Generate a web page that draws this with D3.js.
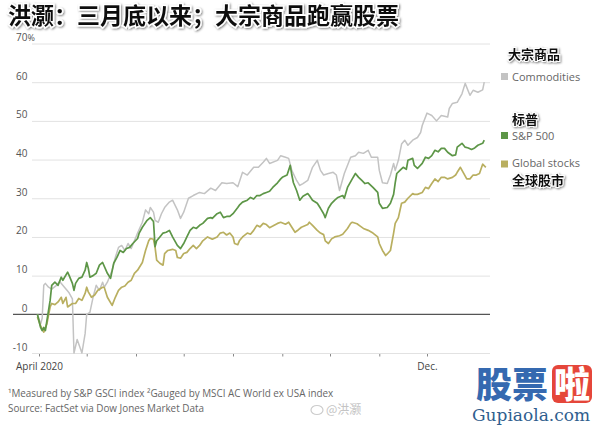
<!DOCTYPE html>
<html><head><meta charset="utf-8">
<script src="https://cdn.jsdelivr.net/npm/d3@7"></script>
<style>
html,body{margin:0;padding:0;background:#fff;}
svg{display:block;}
</style></head><body>
<svg id="c" width="600" height="426"></svg>
<script>
// ---- data (days since 2020-04-01, % change since end of March) ----
const titleText = "洪灏：三月底以来；大宗商品跑赢股票";
const yTicks = [-10, 0, 10, 20, 30, 40, 50, 60, 70];
const monthTicks = ["2020-04-01","2020-05-01","2020-06-01","2020-07-01","2020-08-01","2020-09-01","2020-10-01","2020-11-01","2020-12-01"];
const monthLabels = ["April 2020","","","","","","","","Dec."];
const seriesNames = ["Commodities", "S&P 500", "Global stocks"];
const seriesNamesCn = ["大宗商品", "标普", "全球股市"];
const footnotes = ["¹Measured by S&P GSCI index ²Gauged by MSCI AC World ex USA index",
                   "Source: FactSet via Dow Jones Market Data"];

const comDays = [-1,1,2,3,4,6,8,11,13,16,18,19,21,22,24,27,29,30,32,34,36,38,40,41,43,46,48,50,52,54,56,58,60,62,65,67,69,70,72,73,75,77,79,82,84,87,89,91,94,97,101,104,108,111,115,118,122,125,128,131,135,138,141,143,145,150,152,155,157,159,162,164,166,169,172,175,177,179,182,185,187,189,192,196,199,201,204,207,209,213,214,216,219,221,223,224,226,228,230,232,235,238,240,241,244,247,250,253,257,258,260,263,266,268,271,273,276,279,280];
const comVals = [0,-2.5,-1,7.5,8,7,6.5,7.5,8.5,7,6,5.5,4,-10,-6.5,-10,-5,0,0.5,4.4,7.5,6.2,8.3,7,8.3,11.4,14.7,17.3,17.8,16.5,18.3,17,19,21,23.8,27,26,27.6,26.4,24.3,23.8,26,27.6,29,29.5,27,24.8,26.4,30,30.7,31.5,31.2,32.6,32,34,33.8,34,33,36.7,36,38,38,39.3,40.3,39,39.8,41,40.6,40.3,37.2,34.6,33.3,33.8,34.6,38,39.8,37.2,36,36.4,36.7,36,32,36.4,40.6,41,41.9,41.6,42.4,40.6,40.6,37.2,34,33.8,36,39,37.2,39.8,44,45,43.7,45,45.7,47,48.8,52,51.4,50,51.4,51,53.2,54.5,54.8,57,59.7,56.6,57.9,57.4,58,60];

const spDays = [-1,1,2,3,4,5,6,7,8,10,12,14,15,18,19,21,22,23,25,27,29,30,31,32,34,36,38,40,43,45,47,49,51,53,55,57,59,62,63,65,68,70,72,73,74,76,78,80,82,84,87,89,91,93,95,97,99,101,103,106,108,109,112,114,116,118,120,122,125,126,128,131,133,135,137,139,141,143,145,147,150,152,153,156,158,159,160,162,164,166,169,170,172,175,177,179,180,182,184,186,188,191,192,194,197,199,201,203,205,207,210,213,214,216,219,221,223,224,225,227,229,231,232,235,236,238,241,243,245,247,249,251,253,255,257,260,262,263,266,268,270,272,274,276,279,280];
const spVals = [0,-3.4,-4.2,-3.4,-4.2,-1.6,1,3.6,7.5,8.3,7.5,9.6,8.8,10.9,10,8,6.2,8,9.3,9.6,11.4,13.4,11.9,9.6,10,10.6,12.7,13.4,10.6,9.3,13.2,14.7,16.5,16,17,17.3,18.3,19.6,21,22.5,24.3,25,24,17.5,19,20,21,21.2,21.7,20,17.8,17,18.3,20,21.7,22.5,22.2,23,23.5,24.8,25,24.8,26,26.4,25,25.3,25.3,26,27.6,28.2,29,29.5,30.2,29.8,30.7,30.7,31.2,31.5,31.8,32.8,34,35,35.4,36,38.5,36,34,32,29.5,30.5,31.2,30.7,29.5,28.7,27.4,26,25,27.4,28.7,29.5,30.2,30.7,30,32.8,35,36.4,35.4,34.6,33.8,34,32.8,31.5,28.7,27.4,27.6,28.7,31,34,36.4,37.2,38,37.5,39.8,40.3,38.5,37.7,39,40.6,40.3,41,42.4,42,42.9,42.9,41.9,41,41.2,43.2,44.2,43.2,43,42.6,43,43.7,44.2,45];

const glDays = [-1,1,3,4,5,6,7,8,10,12,14,15,17,18,21,23,25,27,29,30,31,33,35,37,40,41,43,46,48,50,52,54,56,58,60,62,65,67,69,70,72,73,74,76,78,79,81,84,86,87,89,91,93,95,97,99,101,103,106,108,109,112,114,116,118,120,122,123,125,126,128,131,133,135,137,139,141,143,145,147,150,152,155,157,159,161,163,165,169,170,172,175,177,179,180,182,184,186,189,191,194,196,197,200,202,204,207,210,213,214,216,218,219,221,223,224,226,228,230,232,235,236,238,241,243,245,247,249,251,253,255,257,260,262,263,265,267,269,271,273,275,277,279,281];
const glVals = [-0.7,-3,-4.6,-3.5,-2.4,-0.2,1.9,2.8,2.5,3.2,4.4,2.8,4.4,1.9,2.8,2.8,4.1,3.6,5.4,7,5.8,4.4,5,6.2,7,7,4.4,2.3,4.4,6.2,7,7.3,8.3,8.8,10.6,11.4,13.4,16.5,19,19.6,19.4,17.3,14,13.2,12.7,15.7,16.5,16.8,16.5,14.7,14.5,15.7,16,17,17.8,17,17.8,19,20,19.6,19.4,20,21,21.2,20.5,21,20,18.3,18,19,20,21,20.7,21.7,23,22.6,23.5,23.2,22.4,22.8,23.5,23.8,23.3,23.8,22.5,21.2,21.8,22.5,23.2,23.8,23,21.7,21,20.6,19,18.3,19.5,20,20.3,20.7,22.2,23.5,23.8,23.4,22.8,22.2,21.7,21,20,18.3,16.5,15.2,15.6,16.5,21,23.5,25,28.7,29,30,31.2,31,31,31.5,32.8,32.5,33.8,35,34.3,35.4,35.4,35,35.4,36,36.7,38,36.5,35,35,36,36,36.4,38.8,38];

// ---- chart ----
const svg = d3.select("#c");
const defs = svg.append("defs");
defs.append("filter").attr("id","sh").attr("x","-10%").attr("y","-20%").attr("width","130%").attr("height","150%")
  .append("feDropShadow").attr("dx",1).attr("dy",1).attr("stdDeviation",0.9)
  .attr("flood-color","#000").attr("flood-opacity",0.5);

const base = new Date(2020, 3, 1);
const toDate = d => d3.timeDay.offset(base, d);
const parse = d3.timeParse("%Y-%m-%d");
const x = d3.scaleTime().domain([base, new Date(2020, 11, 1)]).range([39, 427]);
const y = d3.scaleLinear().domain([-10, 70]).range([353, 43.5]);

const SANS = "'Open Sans', 'Noto Sans', sans-serif";
const CJK = "'Noto Sans CJK SC', sans-serif";

// gridlines
const grid = svg.append("g").attr("transform", "translate(32,0)")
  .call(d3.axisRight(y).tickValues(yTicks).tickSize(458).tickFormat(""));
grid.select(".domain").remove();
grid.selectAll(".tick line").attr("stroke", d => d === 0 ? "none" : "#e2e2e2").attr("stroke-width", 1);

// y labels
const yl = svg.append("g");
yTicks.forEach(t => {
  yl.append("text").attr("x", 27.5).attr("y", y(t) - 2.5)
    .attr("text-anchor", "end").attr("font-family", SANS).attr("font-size", 10)
    .attr("fill", "#555").text(t);
  if (t === 70) {
    yl.append("text").attr("x", 27.5).attr("y", y(t) - 2.5)
      .attr("font-family", SANS).attr("font-size", 9).attr("fill", "#555").text("%");
  }
});

// x axis ticks
const xa = svg.append("g").attr("transform", `translate(0,${y(-10) + 1})`)
  .call(d3.axisBottom(x).tickValues(monthTicks.map(parse)).tickSize(2.5).tickPadding(6)
    .tickFormat((d, i) => monthLabels[i]));
xa.select(".domain").remove();
xa.selectAll(".tick line").attr("stroke", "#888");
xa.selectAll(".tick text").attr("font-family", SANS).attr("font-size", 10).attr("fill", "#444");

// zero line
svg.append("line").attr("x1", 13).attr("x2", 490).attr("y1", y(0)).attr("y2", y(0))
  .attr("stroke", "#555").attr("stroke-width", 1.3);

// series lines
const colors = {"Commodities": "#c3c3c3", "S&P 500": "#5d9647", "Global stocks": "#b9af60"};
const series = [
  {name: "Commodities", days: comDays, vals: comVals, w: 1.5},
  {name: "Global stocks", days: glDays, vals: glVals, w: 1.7},
  {name: "S&P 500", days: spDays, vals: spVals, w: 1.7}
];
const line = d3.line().x(d => x(d[0])).y(d => y(d[1]));
series.forEach(s => {
  const pts = s.days.map((d, i) => [toDate(d), s.vals[i]]);
  svg.append("path").datum(pts).attr("d", line).attr("fill", "none")
    .attr("stroke", colors[s.name]).attr("stroke-width", s.w).attr("stroke-linejoin", "round");
});

// legend
const leg = [
  {cn: seriesNamesCn[0], cnY: 59, cnX: 508, en: seriesNames[0], enY: 81, sqY: 73},
  {cn: seriesNamesCn[1], cnY: 124, cnX: 512, en: seriesNames[1], enY: 140, sqY: 132},
  {cn: seriesNamesCn[2], cnY: 185, cnX: 512, en: seriesNames[2], enY: 167, sqY: 160.5}
];
leg.forEach(l => {
  svg.append("rect").attr("x", 501).attr("y", l.sqY).attr("width", 7).attr("height", 7).attr("fill", colors[l.en]);
  svg.append("text").attr("x", 512).attr("y", l.enY).attr("font-family", SANS).attr("font-size", 11)
    .attr("fill", "#666").text(l.en);
  svg.append("text").attr("x", l.cnX).attr("y", l.cnY).attr("font-family", CJK).attr("font-weight", 700)
    .attr("font-size", 13).attr("fill", "#111").attr("stroke", "#fff").attr("stroke-width", 2)
    .attr("paint-order", "stroke").attr("filter", "url(#sh)").text(l.cn);
});

// title
svg.append("text").attr("x", 8).attr("y", 24).attr("font-family", CJK).attr("font-weight", 700)
  .attr("font-size", 23).attr("fill", "#111").attr("stroke", "#fff").attr("stroke-width", 3)
  .attr("paint-order", "stroke").attr("filter", "url(#sh)").text(titleText);

// footnotes
footnotes.forEach((f, i) => {
  svg.append("text").attr("x", 8).attr("y", 397 + i * 15).attr("font-family", SANS).attr("font-size", 9.9)
    .attr("fill", "#666").text(f);
});

// watermark
svg.append("ellipse").attr("cx", 317).attr("cy", 410).attr("rx", 6).attr("ry", 4.5)
  .attr("fill", "none").attr("stroke", "#ccc").attr("stroke-width", 1.2);
svg.append("text").attr("x", 326).attr("y", 414).attr("font-family", CJK).attr("font-size", 12)
  .attr("fill", "#c4c4c4").text("@洪灏");

// logo
const lg = svg.append("g");
lg.append("text").attr("x", 476).attr("y", 398).attr("font-family", CJK).attr("font-weight", 900)
  .attr("font-size", 36).attr("fill", "#3569b0").text("股票");
lg.append("rect").attr("x", 552).attr("y", 365).attr("width", 40).attr("height", 38).attr("rx", 6).attr("fill", "#e5463a");
lg.append("text").attr("x", 554).attr("y", 398).attr("font-family", CJK).attr("font-weight", 900)
  .attr("font-size", 36).attr("fill", "#fff").text("啦");
lg.append("text").attr("x", 472).attr("y", 421).attr("font-family", "'DejaVu Serif', serif")
  .attr("font-size", 17).attr("fill", "#2f5e8e").text("Gupiaola.com");
</script>
</body></html>
